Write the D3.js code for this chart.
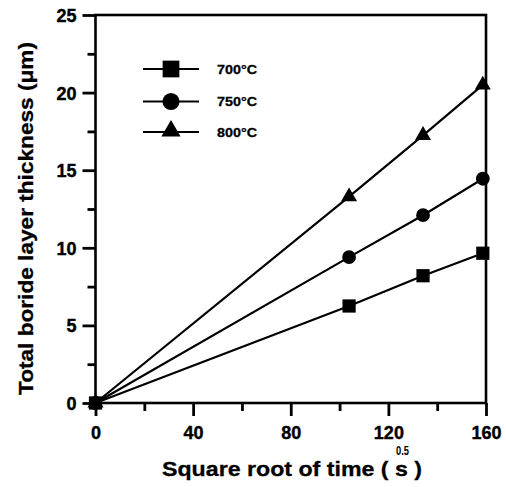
<!DOCTYPE html>
<html><head><meta charset="utf-8">
<script src="https://cdn.jsdelivr.net/npm/d3@7/dist/d3.min.js"></script>
<style>body{margin:0;background:#fff}svg{display:block}</style>
</head><body>
<svg id="c" width="506" height="487"></svg>
<script>
const timeRoot = [0, 103.9, 134.2, 158.7];
const t700 = [0, 6.25, 8.2, 9.65];
const t750 = [0, 9.4, 12.1, 14.45];
const t800 = [0, 13.3, 17.25, 20.5];
const seriesNames = ["700°C", "750°C", "800°C"];
const xTicks = [0, 40, 80, 120, 160];
const yTicks = [0, 5, 10, 15, 20, 25];
const xMinor = [20, 60, 100, 140];
const yMinor = [2.5, 7.5, 12.5, 17.5, 22.5];

const svg = d3.select("#c");
const L = 95.5, R = 486, T = 15, B = 403;
const x = d3.scaleLinear().domain([0, 160]).range([L, R]);
const y = d3.scaleLinear().domain([0, 25]).range([B, T]);
const font = "'Liberation Sans', Arial, sans-serif";

const symbols = [d3.symbolSquare, d3.symbolCircle, d3.symbolTriangle];
const dataSizes = [175, 150, 110];
const legSizes = [280, 230, 160];
const series = [t700, t750, t800];

// series lines
series.forEach((vals, i) => {
  const pts = timeRoot.map((t, j) => [t, vals[j]]);
  svg.append("path").datum(pts)
    .attr("d", d3.line().x(d => x(d[0])).y(d => y(d[1])))
    .attr("fill", "none").attr("stroke", "#000").attr("stroke-width", 2.2);
});

// frame
svg.append("rect").attr("x", L).attr("y", T).attr("width", R - L).attr("height", B - T)
  .attr("fill", "none").attr("stroke", "#000").attr("stroke-width", 2.6);

// axes
const xAxis = svg.append("g").attr("transform", `translate(0,${B})`)
  .call(d3.axisBottom(x).tickValues(xTicks).tickSize(13).tickPadding(10).tickFormat(d3.format("d")));
const xAxisMinor = svg.append("g").attr("transform", `translate(0,${B})`)
  .call(d3.axisBottom(x).tickValues(xMinor).tickSize(8).tickFormat(""));
const yAxis = svg.append("g").attr("transform", `translate(${L},0)`)
  .call(d3.axisLeft(y).tickValues(yTicks).tickSize(13).tickPadding(6).tickFormat(d3.format("d")));
const yAxisMinor = svg.append("g").attr("transform", `translate(${L},0)`)
  .call(d3.axisLeft(y).tickValues(yMinor).tickSize(8).tickFormat(""));
[xAxis, xAxisMinor, yAxis, yAxisMinor].forEach(g => {
  g.select(".domain").remove();
  g.selectAll(".tick line").style("stroke", "#000").style("stroke-width", "2.8px");
  g.selectAll("text").attr("font-family", font).attr("font-weight", "bold")
    .attr("font-size", 18).attr("fill", "#000")
    .style("stroke", "#000").style("stroke-width", "0.4px");
});
xAxis.selectAll("text").attr("dy", "0.72em");
yAxis.selectAll("text").attr("dy", "0.36em");

// markers
series.forEach((vals, i) => {
  svg.append("g").selectAll("path").data(timeRoot.map((t, j) => [t, vals[j]])).join("path")
    .attr("transform", d => `translate(${x(d[0])},${y(d[1])})`)
    .attr("d", d3.symbol().type(symbols[i]).size(dataSizes[i]))
    .attr("fill", "#000");
});

// legend
const legY = [69, 101.5, 132];
seriesNames.forEach((name, i) => {
  const g = svg.append("g").attr("transform", `translate(0,${legY[i]})`);
  g.append("line").attr("x1", 143).attr("x2", 199).attr("y1", 0).attr("y2", 0)
    .attr("stroke", "#000").attr("stroke-width", 2.2);
  g.append("path").attr("transform", `translate(171,${i === 2 ? -1 : 0})`)
    .attr("d", d3.symbol().type(symbols[i]).size(legSizes[i])).attr("fill", "#000");
  g.append("text").attr("x", 217).attr("y", 4.5).text(name)
    .attr("font-family", font).attr("font-weight", "bold").attr("font-size", 13.5)
    .attr("textLength", 40).attr("lengthAdjust", "spacingAndGlyphs")
    .style("stroke", "#000").style("stroke-width", "0.3px");
});

// x title
svg.append("text").attr("x", 162).attr("y", 476)
  .attr("font-family", font).attr("font-weight", "bold").attr("font-size", 21)
  .attr("textLength", 260).attr("lengthAdjust", "spacingAndGlyphs")
  .style("stroke", "#000").style("stroke-width", "0.3px")
  .text("Square root of time (  s  )");
svg.append("text").attr("x", 396).attr("y", 455)
  .attr("font-family", font).attr("font-weight", "bold").attr("font-size", 13)
  .attr("textLength", 13).attr("lengthAdjust", "spacingAndGlyphs").text("0.5");

// y title
svg.append("text").attr("transform", "translate(33,218.5) rotate(-90)")
  .attr("text-anchor", "middle")
  .attr("font-family", font).attr("font-weight", "bold").attr("font-size", 20.5)
  .attr("textLength", 353).attr("lengthAdjust", "spacingAndGlyphs")
  .style("stroke", "#000").style("stroke-width", "0.3px")
  .text("Total boride layer thickness (μm)");
</script>
</body></html>
